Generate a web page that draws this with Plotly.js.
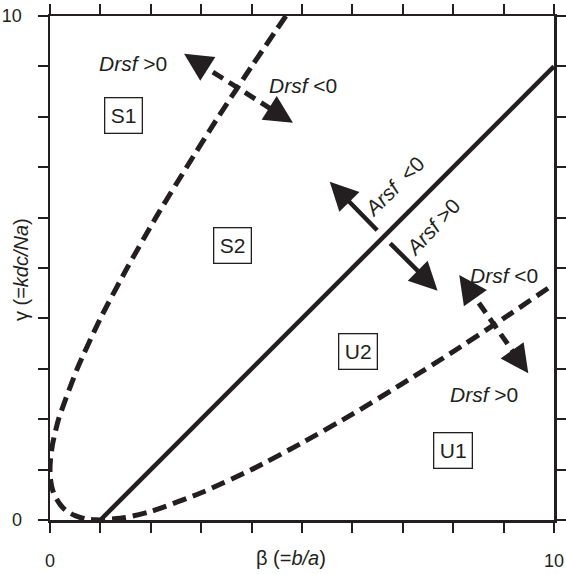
<!DOCTYPE html>
<html>
<head>
<meta charset="utf-8">
<script src="https://cdn.plot.ly/plotly-3.0.1.min.js"></script>
<style>html,body{margin:0;padding:0;background:#fff;}#chart{width:566px;height:574px;}</style>
</head>
<body>
<div id="chart"></div>
<script>
// ---- data ----
// dashed boundary curve (upper branch -> inner arc -> lower branch)
const curveBeta  = [4.68, 4.00, 3.34, 2.71, 2.10, 1.53, 1.00, 0.54, 0.17, 0.05, 0.01, 0.00, 0.01, 0.05, 0.10, 0.20, 0.30, 0.40, 0.50, 0.60, 0.70, 0.80, 0.90, 1.00, 1.50, 2.00, 3.00, 4.00, 5.00, 6.00, 7.00, 8.00, 9.00, 10.00];
const curveGamma = [10.00, 9.00, 8.00, 7.00, 6.00, 5.00, 4.00, 3.00, 2.00, 1.50, 1.20, 1.00, 0.81, 0.60, 0.47, 0.31, 0.20, 0.135, 0.086, 0.05, 0.027, 0.011, 0.003, 0.00, 0.05, 0.17, 0.54, 1.00, 1.53, 2.10, 2.71, 3.34, 4.00, 4.68];
// solid boundary line
const lineBeta  = [1, 10];
const lineGamma = [0, 9];
// double-headed dashed arrows (Drsf): two tips each
const drsfTipA_beta  = [2.66, 8.12];
const drsfTipA_gamma = [9.25, 4.86];
const drsfTipB_beta  = [4.82, 9.49];
const drsfTipB_gamma = [7.88, 2.91];
// solid single arrows (Arsf): tail -> tip
const arsfTail_beta  = [6.52, 6.72];
const arsfTail_gamma = [5.72, 5.52];
const arsfTip_beta   = [5.55, 7.69];
const arsfTip_gamma  = [6.71, 4.55];
// region labels
const regionText  = ['S1', 'S2', 'U2', 'U1'];
const regionBeta  = [1.45, 3.63, 6.11, 8.00];
const regionGamma = [8.02, 5.44, 3.35, 1.37];
// sign labels
const signText  = ['<i>Drsf</i> &gt;0', '<i>Drsf</i> &lt;0', '<i>Drsf</i> &lt;0', '<i>Drsf</i> &gt;0', '<i>Arsf</i>\u00a0 &lt;0', '<i>Arsf</i> &gt;0'];
const signBeta  = [1.65, 5.02, 9.01, 8.61, 6.83, 7.58];
const signGamma = [9.05, 8.63, 4.86, 2.50, 6.61, 5.81];
const signAngle = [0, 0, 0, 0, -45, -47];
// axis ticks
const tickVals = [0,1,2,3,4,5,6,7,8,9,10];
const tickText = ['0','','','','','','','','','','10'];

const INK = '#231f20';
const FONT = '"Liberation Sans", Arial, Helvetica, sans-serif';

const traces = [
  { x: curveBeta, y: curveGamma, mode: 'lines', line: {color: INK, width: 5, dash: '14px,7px', shape: 'spline', smoothing: 0.6}, hoverinfo: 'skip' },
  { x: lineBeta, y: lineGamma, mode: 'lines', line: {color: INK, width: 4.5}, hoverinfo: 'skip' }
];

const annotations = [];
const headBack = 0.5;   // data units behind each head for the annotation tail
const shaftTrim = 0.3;
const HEAD = {arrowhead: 2, arrowsize: 1.25, arrowcolor: INK};
for (let i = 0; i < drsfTipA_beta.length; i++) {
  const ax = drsfTipA_beta[i], ay = drsfTipA_gamma[i];
  const bx = drsfTipB_beta[i], by = drsfTipB_gamma[i];
  const L = Math.hypot(bx - ax, by - ay);
  const ux = (bx - ax) / L, uy = (by - ay) / L;
  traces.push({ x: [ax + ux * shaftTrim, bx - ux * shaftTrim], y: [ay + uy * shaftTrim, by - uy * shaftTrim],
    mode: 'lines', line: {color: INK, width: 5, dash: '12px,7px'}, hoverinfo: 'skip' });
  annotations.push(Object.assign({ x: ax, y: ay, ax: ax + ux * headBack, ay: ay + uy * headBack, xref: 'x', yref: 'y', axref: 'x', ayref: 'y',
    text: '', showarrow: true, arrowwidth: 4.5 }, HEAD));
  annotations.push(Object.assign({ x: bx, y: by, ax: bx - ux * headBack, ay: by - uy * headBack, xref: 'x', yref: 'y', axref: 'x', ayref: 'y',
    text: '', showarrow: true, arrowwidth: 4.5 }, HEAD));
}
for (let i = 0; i < arsfTip_beta.length; i++) {
  annotations.push(Object.assign({ x: arsfTip_beta[i], y: arsfTip_gamma[i], ax: arsfTail_beta[i], ay: arsfTail_gamma[i],
    xref: 'x', yref: 'y', axref: 'x', ayref: 'y', text: '', showarrow: true, arrowwidth: 4.5 }, HEAD));
}
for (let i = 0; i < regionText.length; i++) {
  annotations.push({ x: regionBeta[i], y: regionGamma[i], xref: 'x', yref: 'y', text: regionText[i], showarrow: false,
    font: {family: FONT, size: 21, color: INK}, bordercolor: INK, borderwidth: 1.3, borderpad: 5.5, bgcolor: 'white' });
}
for (let i = 0; i < signText.length; i++) {
  annotations.push({ x: signBeta[i], y: signGamma[i], xref: 'x', yref: 'y', text: signText[i], showarrow: false,
    textangle: signAngle[i], font: {family: FONT, size: 21, color: INK} });
}
// axis titles
annotations.push({ xref: 'paper', yref: 'paper', x: 0.478, y: -0.075, xanchor: 'center', yanchor: 'middle', showarrow: false,
  text: 'β (=<i>b/a</i>)', font: {family: FONT, size: 20, color: INK} });
annotations.push({ xref: 'paper', yref: 'paper', x: -0.0575, y: 0.496, xanchor: 'center', yanchor: 'middle', showarrow: false,
  textangle: -90, text: 'γ (=<i>kdc/Na</i>)', font: {family: FONT, size: 20, color: INK} });

const axisCommon = {
  range: [0, 10], tickmode: 'array', tickvals: tickVals, ticktext: tickText,
  ticks: 'outside', ticklen: 10, tickwidth: 2, tickcolor: INK,
  showline: true, linewidth: 2.5, linecolor: INK, mirror: 'allticks',
  showgrid: false, zeroline: false, fixedrange: true,
  tickfont: {family: FONT, size: 18, color: INK}
};

const layout = {
  width: 566, height: 574,
  margin: {l: 50, r: 12, t: 16, b: 54, pad: 0},
  paper_bgcolor: 'white', plot_bgcolor: 'white',
  showlegend: false,
  font: {family: FONT, color: INK},
  xaxis: Object.assign({}, axisCommon, {ticklabelstandoff: 13}),
  yaxis: Object.assign({}, axisCommon, {ticklabelstandoff: 12}),
  annotations: annotations
};

Plotly.newPlot('chart', traces, layout, {staticPlot: true, displayModeBar: false});
</script>
</body>
</html>
